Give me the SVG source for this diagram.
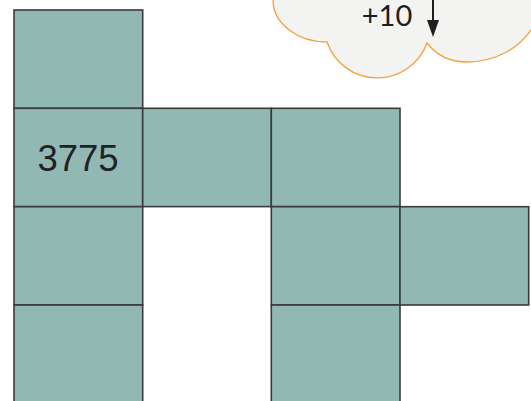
<svg xmlns="http://www.w3.org/2000/svg" width="531" height="401" viewBox="0 0 531 401">
<style>
.cell{fill:#92b8b4;stroke:#3a3a3a;stroke-width:1.6}
.lbl{font-family:"Liberation Sans",Arial,sans-serif;font-size:36.5px;fill:#222}
.cloud{fill:#f3f3f1;stroke:#f5a03c;stroke-width:1.3}
.ctext{font-family:Lato,"Liberation Sans",sans-serif;font-size:29px;fill:#1e1e1e}
.arrow{stroke:#1e1e1e;stroke-width:2}
.head{fill:#1e1e1e}
</style>
<rect width="531" height="401" fill="#fff"/>
<g id="cloud">
<path class="cloud" d="M273,-10 L273,0 A54 42 0 0 0 327 42 A53 53 0 0 0 427 43 C437,56 452,62 467,62 C490,62 520,52 536,22 L536,-10 Z"/>
<text class="ctext" x="387" y="25.5" text-anchor="middle">+10</text>
</g>
<g id="cells">
<g id="c00"><rect class="cell" x="14" y="10" width="128.7" height="98.3"/></g>
<g id="c01"><rect class="cell" x="14" y="108.3" width="128.7" height="98.3"/><text class="lbl" x="78" y="170.5" text-anchor="middle">3775</text></g>
<g id="c11"><rect class="cell" x="142.7" y="108.3" width="128.7" height="98.3"/></g>
<g id="c21"><rect class="cell" x="271.3" y="108.3" width="128.7" height="98.3"/></g>
<g id="c02"><rect class="cell" x="14" y="206.7" width="128.7" height="98.3"/></g>
<g id="c22"><rect class="cell" x="271.3" y="206.7" width="128.7" height="98.3"/></g>
<g id="c32"><rect class="cell" x="400" y="206.7" width="128.7" height="98.3"/></g>
<g id="c03"><rect class="cell" x="14" y="305" width="128.7" height="98.3"/></g>
<g id="c23"><rect class="cell" x="271.3" y="305" width="128.7" height="98.3"/></g>
</g>
<g id="connectors">
<line class="arrow" x1="433" y1="-5" x2="433" y2="22"/>
<path class="head" d="M427,20 L439,20 L433,37 Z"/>
</g>
</svg>
